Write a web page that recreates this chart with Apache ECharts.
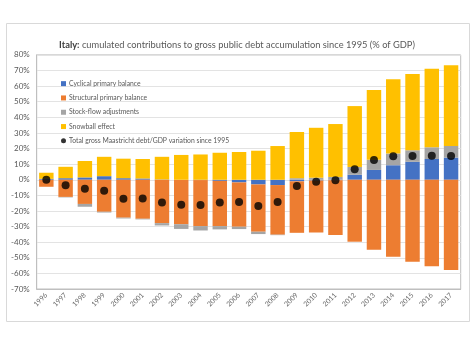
<!DOCTYPE html>
<html>
<head>
<meta charset="utf-8">
<script src="https://cdn.jsdelivr.net/npm/echarts@6/dist/echarts.min.js"></script>
<style>html,body{margin:0;padding:0;background:#fff}#c{width:474px;height:355px}</style>
</head>
<body>
<div id="c"></div>
<script>
const years = ['1996','1997','1998','1999','2000','2001','2002','2003','2004','2005','2006','2007','2008','2009','2010','2011','2012','2013','2014','2015','2016','2017'];
const cyclical   = [0.6, 1.0, 1.5, 2.3, 1.0, 0.8, 0.2, 0.0, -0.2, -0.7, -1.7, -3.0, -3.4, -1.0, -0.5, -0.3, 3.2, 6.3, 9.3, 11.5, 13.3, 14.2];
const structural = [-4.5, -11.0, -15.5, -20.5, -24.3, -25.0, -27.8, -28.5, -29.5, -29.0, -28.4, -30.3, -31.8, -33.0, -33.3, -35.1, -39.7, -44.8, -49.3, -52.6, -55.4, -57.9];
const stockFlow  = [0.0, -0.3, -1.8, -0.5, -0.5, -0.4, -1.5, -3.0, -2.8, -2.1, -1.5, -1.5, -0.3, 1.0, 1.3, 1.8, 5.0, 6.5, 7.5, 7.4, 7.5, 7.5];
const snowball   = [3.9, 7.3, 10.5, 12.4, 12.5, 12.5, 14.5, 15.9, 16.2, 17.3, 17.8, 18.6, 21.6, 29.6, 32.0, 33.9, 39.0, 44.7, 47.6, 48.9, 50.4, 51.6];
const totalVar   = [0.0, -3.6, -5.8, -7.0, -12.2, -12.0, -14.6, -16.0, -16.2, -14.5, -14.2, -16.8, -14.2, -4.0, -1.3, -0.3, 6.8, 12.6, 15.1, 15.2, 15.4, 15.2];
const seriesNames = ['Cyclical primary balance','Structural primary balance','Stock-flow adjustments','Snowball effect','Total gross Maastricht debt/GDP variation since 1995'];

const FONT = 'Lato, "Liberation Sans", sans-serif';
const chart = echarts.init(document.getElementById('c'), null, {renderer:'canvas'});
const barSeries = (name, data, color) => ({
  name, type:'bar', stack:'a', data, barCategoryGap:'25%',
  itemStyle:{color}, emphasis:{disabled:true}
});
chart.setOption({
  animation:false,
  textStyle:{fontFamily:FONT},
  graphic:[{type:'rect', shape:{x:6.5,y:23.5,width:463,height:298}, style:{fill:'none', stroke:'#d9d9d9', lineWidth:1}, z:-10, silent:true}],
  title:{
    text:'{b|Italy:} cumulated contributions to gross public debt accumulation since 1995 (% of GDP)',
    left:'center', top:35,
    textStyle:{fontSize:9.3, fontWeight:'normal', color:'#595959', fontFamily:FONT,
      rich:{b:{fontSize:9.3, fontWeight:'bold', color:'#404040', fontFamily:FONT}}}
  },
  legend:{
    orient:'vertical', left:56, top:74, itemWidth:5, itemHeight:5, itemGap:5,
    textStyle:{fontSize:6.8, color:'#595959', lineHeight:9.3, fontFamily:FONT, padding:[0,0,0,-2]},
    data:[
      {name:seriesNames[0], icon:'rect'},
      {name:seriesNames[1], icon:'rect'},
      {name:seriesNames[2], icon:'rect'},
      {name:seriesNames[3], icon:'rect'},
      {name:seriesNames[4], icon:'circle', itemStyle:{color:'#000'}}
    ],
    selectedMode:false
  },
  grid:{left:36.7, right:13.3, top:54.9, bottom:66, show:true, borderColor:'#bfbfbf', borderWidth:1, containLabel:false},
  xAxis:{
    type:'category', data:years,
    axisLine:{show:true, onZero:false, lineStyle:{color:'#bfbfbf'}},
    axisTick:{show:false},
    axisLabel:{rotate:45, fontSize:7, color:'#6a6a6a', margin:5, interval:0, fontFamily:FONT}
  },
  yAxis:{
    type:'value', min:-70, max:80, interval:10,
    axisLine:{show:true, lineStyle:{color:'#bfbfbf'}},
    axisTick:{show:false},
    splitLine:{lineStyle:{color:'#e3e3e3'}},
    axisLabel:{formatter:'{value}%', fontSize:8, color:'#595959', margin:7, fontFamily:FONT}
  },
  series:[
    barSeries(seriesNames[0], cyclical, '#4472C4'),
    barSeries(seriesNames[1], structural, '#ED7D31'),
    barSeries(seriesNames[2], stockFlow, '#A5A5A5'),
    barSeries(seriesNames[3], snowball, '#FFC000'),
    {name:seriesNames[4], type:'scatter', data:totalVar, symbol:'circle', symbolSize:8,
     itemStyle:{color:'#000'}, z:10, emphasis:{disabled:true}}
  ]
});
</script>
</body>
</html>
